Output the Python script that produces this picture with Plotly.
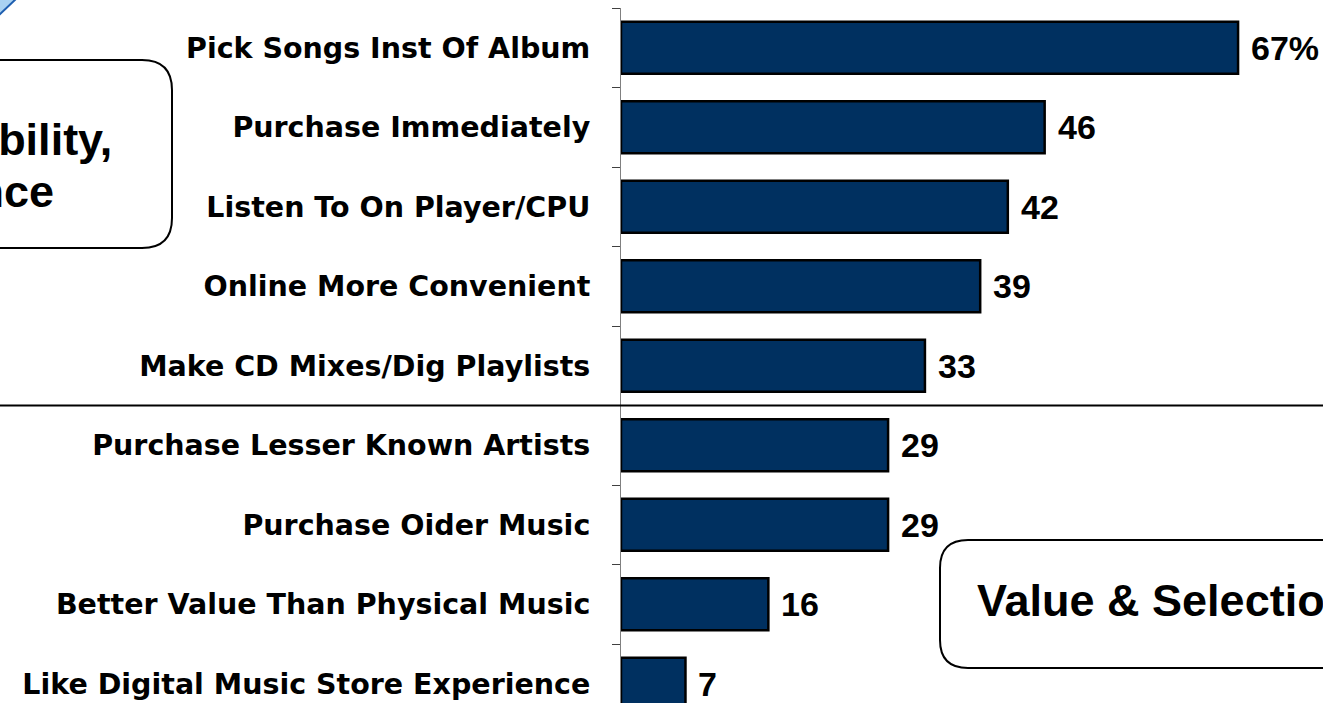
import plotly.graph_objects as go

# Reasons for buying digital music (% of respondents)
reasons = [
    "Pick Songs Inst Of Album",
    "Purchase Immediately",
    "Listen To On Player/CPU",
    "Online More Convenient",
    "Make CD Mixes/Dig Playlists",
    "Purchase Lesser Known Artists",
    "Purchase Oider Music",
    "Better Value Than Physical Music",
    "Like Digital Music Store Experience",
]
shares = [67, 46, 42, 39, 33, 29, 29, 16, 7]
value_labels = [f"{v}%" if i == 0 else str(v) for i, v in enumerate(shares)]

W, H = 1323, 703
ML, MT = 621, 8
PW, PH = W - ML, H - MT


def px(x):
    return (x - ML) / PW


def py(y):
    return (H - y) / PH


def rounded_box(x0, y0, x1, y1, r):
    a, b, c, d = px(x0), py(y0), px(x1), py(y1)
    rx, ry = r / PW, r / PH
    return (
        f"M {a + rx},{b} L {c - rx},{b} Q {c},{b} {c},{b - ry} "
        f"L {c},{d + ry} Q {c},{d} {c - rx},{d} L {a + rx},{d} "
        f"Q {a},{d} {a},{d + ry} L {a},{b - ry} Q {a},{b} {a + rx},{b} Z"
    )


fig = go.Figure(
    go.Bar(
        x=shares,
        y=reasons,
        orientation="h",
        marker=dict(color="#003060", line=dict(color="#000000", width=2.5)),
        width=0.655,
        hoverinfo="skip",
    )
)

for r, v, t in zip(reasons, shares, value_labels):
    fig.add_annotation(
        x=v, y=r, xref="x", yref="y", text=t, showarrow=False,
        xanchor="left", yanchor="middle", xshift=11,
        font=dict(family="Liberation Sans, Arial", size=34, color="#000000", weight="bold"),
    )

shapes = [
    # divider between the two groups of reasons
    dict(type="line", xref="paper", yref="y", x0=px(-50), x1=px(W + 50), y0=4.5, y1=4.5,
         line=dict(color="#000000", width=2)),
    # group boxes
    dict(type="path", xref="paper", yref="paper", path=rounded_box(-250, 60, 172, 248, 30),
         line=dict(color="#000000", width=2), fillcolor="rgba(0,0,0,0)"),
    dict(type="path", xref="paper", yref="paper", path=rounded_box(940, 540, 1500, 668, 28),
         line=dict(color="#000000", width=2), fillcolor="rgba(0,0,0,0)"),
    # corner badge
    dict(type="path", xref="paper", yref="paper",
         path=f"M {px(-2)},{py(-2)} L {px(17)},{py(-2)} L {px(-2)},{py(16)} Z",
         line=dict(color="#1f5fb0", width=2), fillcolor="#a9d2f2"),
]

box_font = dict(family="Liberation Sans, Arial", size=45, color="#000000", weight="bold")
annotations_extra = [
    dict(x=px(114), y=py(140), text="Accessibility,", xanchor="right"),
    dict(x=px(56), y=py(191), text="Convenience", xanchor="right"),
    dict(x=px(975), y=py(600), text="Value & Selection", xanchor="left"),
]
for a in annotations_extra:
    fig.add_annotation(xref="paper", yref="paper", showarrow=False, yanchor="middle",
                       font=box_font, **a)

fig.update_layout(
    width=W, height=H,
    margin=dict(l=ML, r=0, t=MT, b=0),
    paper_bgcolor="#ffffff", plot_bgcolor="#ffffff",
    showlegend=False,
    bargap=0.345,
    shapes=shapes,
    xaxis=dict(range=[0, PW / 9.21], visible=False, fixedrange=True),
    yaxis=dict(
        type="category",
        categoryorder="array", categoryarray=reasons,
        range=[8.242, -0.5],
        showline=True, linecolor="#808080", linewidth=1,
        ticks="outside", tickson="boundaries", ticklen=8, tickcolor="#404040",
        tickfont=dict(family="DejaVu Sans", size=28.5, color="#000000", weight="bold"),
        ticklabelstandoff=24,
        showgrid=False, zeroline=False, fixedrange=True,
    ),
)

fig.write_html("out.html")
